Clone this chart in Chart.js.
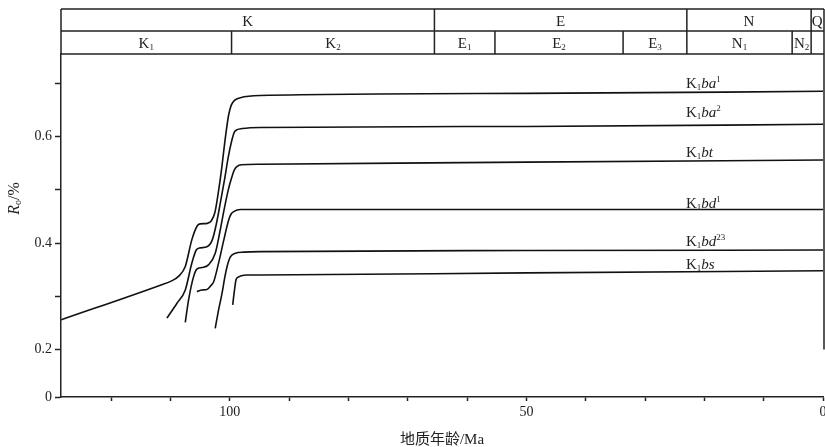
<!DOCTYPE html>
<html>
<head>
<meta charset="utf-8">
<script src="https://cdn.jsdelivr.net/npm/chart.js@4.4.1/dist/chart.umd.min.js"></script>
<style>
html, body { margin: 0; padding: 0; background: #fff; overflow: hidden; }
#wrap { width: 825px; height: 447px; position: relative; }
</style>
</head>
<body>
<div id="wrap"><canvas id="ro-chart"></canvas></div>
<script>
// --- data: [age Ma, Ro %] ---
const K1ba1 = [[128.4,0.256],[111.7,0.321],[109.8,0.329],[108.6,0.338],[107.5,0.356],[106.4,0.406],[105.5,0.432],[105.0,0.436],[103.8,0.437],[103.1,0.442],[102.5,0.458],[102.0,0.490],[101.4,0.537],[100.8,0.593],[100.2,0.640],[99.75,0.659],[99.2,0.668],[98.2,0.673],[94.9,0.677],[50,0.681],[0,0.685]];
const K1ba2 = [[110.6,0.259],[108.9,0.287],[107.5,0.312],[106.4,0.362],[105.65,0.387],[105.0,0.391],[103.85,0.393],[102.95,0.406],[102.3,0.434],[101.6,0.475],[100.9,0.518],[100.25,0.562],[99.65,0.593],[99.25,0.608],[98.75,0.613],[97.9,0.615],[94.9,0.617],[50,0.619],[0,0.623]];
const K1bt = [[107.5,0.251],[106.95,0.293],[106.1,0.337],[105.55,0.351],[104.7,0.354],[103.6,0.359],[102.45,0.381],[101.6,0.425],[100.9,0.466],[100.25,0.500],[99.65,0.524],[99.25,0.537],[98.75,0.544],[98.05,0.547],[94.9,0.548],[50,0.552],[0,0.556]];
const K1bd1 = [[105.55,0.309],[104.7,0.312],[103.85,0.313],[103.2,0.320],[102.7,0.328],[101.9,0.362],[101.0,0.406],[100.2,0.443],[99.75,0.455],[99.35,0.459],[98.2,0.463],[94.9,0.463],[50,0.463],[0,0.463]];
const K1bd23 = [[102.45,0.240],[101.95,0.271],[101.3,0.306],[100.85,0.335],[100.45,0.356],[99.9,0.374],[99.05,0.381],[97.65,0.383],[94.9,0.384],[50,0.386],[0,0.387]];
const K1bs = [[99.5,0.284],[99.35,0.299],[99.2,0.312],[98.95,0.331],[98.6,0.336],[98.2,0.338],[97.1,0.340],[94.9,0.340],[50,0.344],[0,0.348]];

const series = [K1ba1, K1ba2, K1bt, K1bd1, K1bd23, K1bs];
// label pieces: K + subscript, italic member, superscript
const seriesLabels = [
    { sub: '1', it: 'ba', sup: '1' },
    { sub: '1', it: 'ba', sup: '2' },
    { sub: '1', it: 'bt', sup: '' },
    { sub: '1', it: 'bd', sup: '1' },
    { sub: '1', it: 'bd', sup: '23' },
    { sub: '1', it: 'bs', sup: '' }
];
const labelAge = 23.1;
const labelLift = [4, 8, 3.5, 1.5, 4.5, 2.5];

// stratigraphic header
const periods = ['K', 'E', 'N', 'Q'];
const periodBounds = [128.45, 65.5, 22.95, 2.0, 0];
const epochs = [['K','1'], ['K','2'], ['E','1'], ['E','2'], ['E','3'], ['N','1'], ['N','2'], ['','']];
const epochBounds = [128.45, 99.7, 65.5, 55.3, 33.7, 22.95, 5.2, 2.0, 0];

// axes
const ageMax = 128.45;
const roFloor = 0.111;   // broken axis: bottom drawn as 0
const roTop = 0.755;
const xTicks = [0, 10, 20, 30, 40, 50, 60, 70, 80, 90, 100, 110, 120];
const xTickLabels = ['0', '', '', '', '', '50', '', '', '', '', '100', '', ''];
const yTicks = [roFloor, 0.2, 0.3, 0.4, 0.5, 0.6, 0.7];
const yTickLabels = ['0', '0.2', '', '0.4', '', '0.6', ''];

const SERIF = "'Liberation Serif', 'Times New Roman', serif";
const INK = '#222';

function valueAt(data, age) {
    for (let i = 1; i < data.length; i++) {
        const [a0, v0] = data[i - 1], [a1, v1] = data[i];
        if (age <= a0 && age >= a1) return v0 + (v1 - v0) * (a0 - age) / (a0 - a1);
    }
    return data[data.length - 1][1];
}

// parts: [{t, font, dy}] drawn left to right
function partsWidth(ctx, parts) {
    let w = 0;
    parts.forEach(p => { ctx.font = p.font; w += ctx.measureText(p.t).width; });
    return w;
}
function drawParts(ctx, parts, x, y) {
    parts.forEach(p => {
        ctx.font = p.font;
        ctx.fillText(p.t, x, y + (p.dy || 0));
        x += ctx.measureText(p.t).width;
    });
}

const decor = {
    id: 'decor',
    afterDraw(chart) {
        const { ctx, chartArea: a, scales: { x, y } } = chart;
        ctx.save();
        ctx.strokeStyle = INK;
        ctx.fillStyle = INK;
        ctx.lineWidth = 1.5;
        const top = a.top - 45, mid = a.top - 23, right = a.right + 1;

        ctx.beginPath();
        [top, mid, a.top].forEach(yy => { ctx.moveTo(a.left, yy); ctx.lineTo(right, yy); });
        ctx.moveTo(a.left, top); ctx.lineTo(a.left, a.top);
        ctx.moveTo(right, top); ctx.lineTo(right, y.getPixelForValue(0.2));
        periodBounds.slice(1, -1).forEach(v => {
            const px = x.getPixelForValue(v);
            ctx.moveTo(px, top); ctx.lineTo(px, a.top);
        });
        epochBounds.slice(1, -1).forEach(v => {
            const px = x.getPixelForValue(v);
            ctx.moveTo(px, mid); ctx.lineTo(px, a.top);
        });
        ctx.stroke();

        ctx.textBaseline = 'alphabetic';
        periods.forEach((p, i) => {
            const cx = (x.getPixelForValue(periodBounds[i]) + x.getPixelForValue(periodBounds[i + 1])) / 2;
            const parts = [{ t: p, font: '15px ' + SERIF }];
            drawParts(ctx, parts, cx - partsWidth(ctx, parts) / 2, mid - 5.5);
        });
        epochs.forEach((e, i) => {
            if (!e[0]) return;
            const cx = (x.getPixelForValue(epochBounds[i]) + x.getPixelForValue(epochBounds[i + 1])) / 2;
            const parts = [{ t: e[0], font: '15px ' + SERIF }, { t: e[1], font: '9px ' + SERIF, dy: 2 }];
            drawParts(ctx, parts, cx - partsWidth(ctx, parts) / 2, a.top - 6);
        });

        // curve labels
        series.forEach((data, i) => {
            const l = seriesLabels[i];
            const lx = x.getPixelForValue(labelAge);
            const ly = y.getPixelForValue(valueAt(data, labelAge)) - labelLift[i];
            drawParts(ctx, [
                { t: 'K', font: '15px ' + SERIF },
                { t: l.sub, font: '9px ' + SERIF, dy: 2 },
                { t: l.it, font: 'italic 15px ' + SERIF },
                { t: l.sup, font: '9px ' + SERIF, dy: -6 }
            ], lx, ly);
        });

        // axis titles
        const xt = [{ t: '地质年龄/Ma', font: "15px 'Liberation Serif', 'Noto Sans CJK SC', serif" }];
        drawParts(ctx, xt, (a.left + a.right) / 2 - partsWidth(ctx, xt) / 2, a.bottom + 47);

        const yt = [
            { t: 'R', font: 'italic 16px ' + SERIF },
            { t: 'o', font: '10px ' + SERIF, dy: 2 },
            { t: '/%', font: '16px ' + SERIF }
        ];
        ctx.translate(a.left - 42, (a.top + a.bottom) / 2 - 27);
        ctx.rotate(-Math.PI / 2);
        drawParts(ctx, yt, -partsWidth(ctx, yt) / 2, 0);
        ctx.restore();
    }
};

const tickFont = { family: SERIF, size: 14 };

new Chart(document.getElementById('ro-chart'), {
    type: 'line',
    data: {
        datasets: series.map(s => ({
            data: s.map(([age, ro]) => ({ x: age, y: ro })),
            borderColor: '#111',
            borderWidth: 1.6,
            pointRadius: 0,
            fill: false,
            cubicInterpolationMode: 'monotone'
        }))
    },
    options: {
        responsive: true,
        maintainAspectRatio: false,
        animation: false,
        events: [],
        layout: { padding: { top: 54, right: 2, left: 0, bottom: 0 } },
        plugins: { legend: { display: false }, tooltip: { enabled: false } },
        scales: {
            x: {
                type: 'linear',
                reverse: true,
                min: 0,
                max: ageMax,
                afterBuildTicks: s => { s.ticks = xTicks.map(v => ({ value: v })); },
                afterFit: s => { s.height = 50; s.paddingLeft = 0; s.paddingRight = 0; },
                ticks: {
                    autoSkip: false, maxRotation: 0, padding: 3, color: INK, font: tickFont,
                    callback: v => xTickLabels[xTicks.indexOf(v)]
                },
                grid: { drawOnChartArea: false, tickLength: 4, tickColor: INK, tickWidth: 1.5 },
                border: { color: INK, width: 1.5 }
            },
            y: {
                type: 'linear',
                min: roFloor,
                max: roTop,
                afterBuildTicks: s => { s.ticks = yTicks.map(v => ({ value: v })); },
                afterFit: s => { s.width = 61; s.paddingTop = 0; s.paddingBottom = 0; },
                ticks: {
                    autoSkip: false, padding: 3, color: INK, font: tickFont,
                    callback: v => yTickLabels[yTicks.indexOf(v)]
                },
                grid: { drawOnChartArea: false, tickLength: 6, tickColor: INK, tickWidth: 1.5 },
                border: { color: INK, width: 1.5 }
            }
        }
    },
    plugins: [decor]
});
</script>
</body>
</html>
